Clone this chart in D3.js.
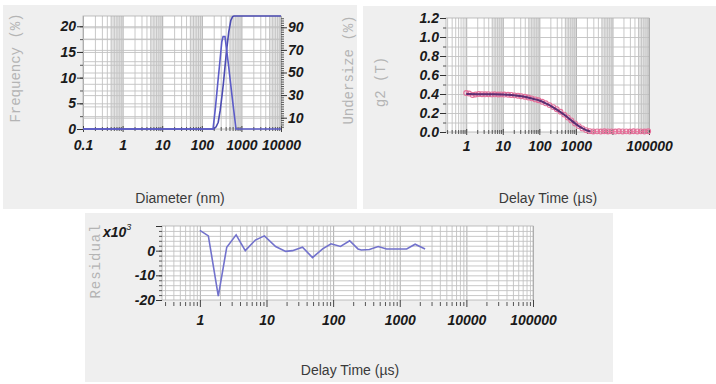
<!DOCTYPE html>
<html>
<head>
<meta charset="utf-8">
<script src="https://cdn.jsdelivr.net/npm/d3@7"></script>
<style>
body { margin: 0; background: #fff; }
.tick text { font-family: "Liberation Sans", Arial, sans-serif; font-weight: bold; font-style: italic; font-size: 14px; fill: #1a1a1a; }
.ytitle { font-family: "Liberation Mono", monospace; font-size: 14px; fill: #b4b4b4; }
.xtitle { font-family: "Liberation Sans", Arial, sans-serif; font-size: 14px; fill: #3a3a3a; }
.domain { display: none; }
</style>
</head>
<body>
<svg id="chart" width="716" height="384"></svg>
<script>
// ---- size distribution (top left)
var freqDiameter = [0.1, 192, 220, 250, 285, 320, 345, 385, 430, 480, 540, 610, 680, 730, 10000];
var freqValue    = [0, 0, 4, 8.5, 13, 17, 18, 18, 15, 12, 8.5, 5, 2, 0, 0];
var underDiameter = [0.1, 200, 230, 260, 290, 320, 350, 385, 430, 480, 540, 600, 650, 10000];
var underValue    = [0, 0, 2, 6, 16, 28, 40, 55, 72, 86, 96, 99.5, 100, 100];
var diamLabels = [0.1, 1, 10, 100, 1000, 10000];
var freqLabels = [0, 5, 10, 15, 20];
var underLabels = [10, 30, 50, 70, 90];

// ---- correlation function (top right)
var g2Time = [1, 1.2, 1.5, 1.8, 2.2, 2.7, 3.3, 4, 5, 6, 7.5, 9, 11, 14, 17, 21, 26, 32, 40, 50, 62, 78, 95,
  120, 150, 190, 240, 300, 380, 480, 600, 750, 950, 1200, 1500, 1900, 2400, 3000, 3800, 4800, 6000, 7500,
  9500, 12000, 15000, 19000, 24000, 30000, 38000, 48000, 60000, 75000, 95000];
var g2Value = [0.41, 0.405, 0.39, 0.395, 0.40, 0.398, 0.397, 0.398, 0.396, 0.397, 0.395, 0.396, 0.394, 0.392,
  0.39, 0.386, 0.382, 0.377, 0.371, 0.363, 0.354, 0.343, 0.334, 0.318, 0.302, 0.283, 0.262, 0.24, 0.213,
  0.183, 0.153, 0.122, 0.09, 0.062, 0.038, 0.02, 0.009, 0.006, 0.007, 0.005, 0.008, 0.006, 0.007, 0.005,
  0.008, 0.006, 0.007, 0.005, 0.008, 0.006, 0.007, 0.005, 0.008];
var fitTime  = [1, 2, 5, 10, 20, 40, 70, 100, 150, 220, 330, 500, 700, 1000, 1400, 1900, 2500];
var fitValue = [0.400, 0.398, 0.397, 0.395, 0.388, 0.371, 0.348, 0.332, 0.302, 0.268, 0.225, 0.176, 0.131, 0.084, 0.045, 0.02, 0.006];
var g2TimeLabels = [1, 10, 100, 1000, 100000];
var g2Labels = [0, 0.2, 0.4, 0.6, 0.8, 1.0, 1.2];

// ---- residual (bottom)
var resTime  = [1, 1.34, 1.89, 2.53, 3.5, 4.8, 6.8, 9.3, 13.7, 19.4, 24.5, 34.7, 49, 69.6, 93, 129, 177,
  236, 265, 350, 475, 633, 850, 1270, 1700, 2400];
var resValue = [8.2, 6, -18.4, 1.4, 6.4, 0, 4.3, 6, 1.7, -0.3, 0, 1.4, -2.8, 0.7, 2.8, 1.7, 4, 0.7, 0.3,
  0.5, 1.7, 0.7, 0.7, 0.7, 2.6, 0.7];
var resTimeLabels = [1, 10, 100, 1000, 10000, 100000];
var resLabels = [-20, -10, 0];

var svg = d3.select('#chart');

// 1..9 x 10^k inside a domain
function logTicks(lo, hi) {
  var out = [];
  for (var k = -2; k <= 6; k++) {
    for (var m = 1; m < 10; m++) {
      var v = +(m * Math.pow(10, k)).toPrecision(3);
      if (v >= lo * 0.999 && v <= hi * 1.001) out.push(v);
    }
  }
  return out;
}
function isDecade(v) {
  var l = Math.log10(v);
  return Math.abs(l - Math.round(l)) < 1e-6;
}

function panel(p) {
  var g = svg.append('g');
  g.append('rect')
    .attr('x', p.bg[0]).attr('y', p.bg[1]).attr('width', p.bg[2]).attr('height', p.bg[3])
    .attr('fill', '#efefef');

  var x = d3.scaleLog().domain(p.xDomain).range([p.left, p.right]);
  var y = d3.scaleLinear().domain(p.yDomain).range([p.bottom, p.top]);
  var h = p.bottom - p.top, w = p.right - p.left;

  g.append('rect')
    .attr('x', p.left).attr('y', p.top).attr('width', w).attr('height', h)
    .attr('fill', '#fff');

  // shaded upper part of each decade
  if (p.bands) {
    var dec = logTicks(p.xDomain[0], p.xDomain[1]).filter(isDecade);
    dec.forEach(function (d) {
      var a = Math.max(d * 5, p.xDomain[0]), b = Math.min(d * 10, p.xDomain[1]);
      if (a < b) {
        g.append('rect')
          .attr('x', x(a)).attr('y', p.top)
          .attr('width', x(b) - x(a)).attr('height', h)
          .attr('fill', '#e3e3e3');
      }
    });
  }

  // vertical grid
  var vg = g.append('g')
    .attr('transform', 'translate(0,' + p.bottom + ')')
    .call(d3.axisBottom(x).tickValues(logTicks(p.xDomain[0], p.xDomain[1])).tickSize(-h).tickFormat(''));
  vg.selectAll('.tick line')
    .attr('stroke', function (d) { return isDecade(d) ? '#a4a4a4' : '#c2c2c2'; })
    .attr('stroke-width', 0.9);

  // horizontal grid
  p.hGrid.forEach(function (hg) {
    var s = d3.scaleLinear().domain(hg.domain).range([p.bottom, p.top]);
    var gg = g.append('g')
      .attr('transform', 'translate(' + p.left + ',0)')
      .call(d3.axisLeft(s).tickValues(hg.values).tickSize(-w).tickFormat(''));
    gg.selectAll('.tick line').attr('stroke', '#c2c2c2').attr('stroke-width', 0.9);
  });

  g.append('rect')
    .attr('x', p.left).attr('y', p.top).attr('width', w).attr('height', h)
    .attr('fill', 'none').attr('stroke', '#b0b0b0').attr('stroke-width', 0.8);

  // x tick marks
  var minor = logTicks(p.xDomain[0], p.xDomain[1]).filter(function (d) { return !isDecade(d); });
  var major = logTicks(p.xDomain[0], p.xDomain[1]).filter(isDecade);
  g.append('g')
    .attr('transform', 'translate(0,' + (p.bottom + p.minorOff) + ')')
    .style('color', '#555')
    .call(d3.axisBottom(x).tickValues(minor).tickSize(p.minorLen).tickFormat(''));
  g.append('g')
    .attr('transform', 'translate(0,' + (p.bottom + p.majorOff) + ')')
    .style('color', '#444')
    .call(d3.axisBottom(x).tickValues(major).tickSize(p.majorLen).tickFormat(''));
  // x tick labels
  g.append('g')
    .attr('transform', 'translate(0,' + p.bottom + ')')
    .call(d3.axisBottom(x).tickValues(p.xLabels).tickSize(0).tickPadding(p.xPad)
      .tickFormat(function (d) { return String(d); }));

  return { g: g, x: x, y: y };
}

function yAxis(g, scale, xpos, side, labels, minor, fmt) {
  var ax = side === 'left' ? d3.axisLeft : d3.axisRight;
  g.append('g')
    .attr('transform', 'translate(' + xpos + ',0)')
    .style('color', '#555')
    .call(ax(scale).tickValues(minor).tickSize(3).tickFormat(''));
  g.append('g')
    .attr('transform', 'translate(' + xpos + ',0)')
    .style('color', '#333')
    .call(ax(scale).tickValues(labels).tickSize(6).tickPadding(1).tickFormat(fmt));
}

function ytitle(text, cx, cy, spacing) {
  svg.append('text')
    .attr('class', 'ytitle')
    .attr('transform', 'translate(' + cx + ',' + cy + ') rotate(-90)')
    .attr('text-anchor', 'middle')
    .attr('dy', '0.35em')
    .style('letter-spacing', spacing || 0)
    .text(text);
}
function xtitle(text, cx, by) {
  svg.append('text')
    .attr('class', 'xtitle')
    .attr('x', cx).attr('y', by)
    .attr('text-anchor', 'middle')
    .text(text);
}

// ============ panel 1: size distribution
var p1 = panel({
  bg: [3, 5, 354, 204],
  left: 83, right: 281, top: 16, bottom: 129,
  xDomain: [0.1, 10000], yDomain: [0, 22],
  bands: true,
  hGrid: [
    { domain: [0, 22], values: d3.range(2.5, 22, 2.5) },
    { domain: [0, 100], values: d3.range(10, 100, 10) }
  ],
  minorOff: 2, minorLen: -4, majorOff: 3, majorLen: -6,
  xLabels: diamLabels, xPad: 11
});
var yUnder = d3.scaleLinear().domain([0, 100]).range([129, 16]);
yAxis(p1.g, p1.y, 83, 'left', freqLabels, d3.range(2.5, 22, 2.5), function (d) { return String(d); });
yAxis(p1.g, yUnder, 281, 'right', underLabels, d3.range(2, 100, 2), function (d) { return String(d); });

p1.g.append('path')
  .datum(d3.zip(underDiameter, underValue))
  .attr('fill', 'none').attr('stroke', '#4c4cb2').attr('stroke-width', 1.6)
  .attr('d', d3.line().x(function (d) { return p1.x(d[0]); }).y(function (d) { return yUnder(d[1]); }));
p1.g.append('path')
  .datum(d3.zip(freqDiameter, freqValue))
  .attr('fill', 'none').attr('stroke', '#5c5cc8').attr('stroke-width', 1.6)
  .attr('d', d3.line().x(function (d) { return p1.x(d[0]); }).y(function (d) { return p1.y(d[1]); }));

ytitle('Frequency (%)', 15, 68);
ytitle('Undersize (%)', 348, 70);
xtitle('Diameter (nm)', 180, 203);

// ============ panel 2: g2
var p2 = panel({
  bg: [363, 6, 353, 203],
  left: 446, right: 649, top: 18, bottom: 132,
  xDomain: [0.28, 100000], yDomain: [0, 1.2],
  bands: true,
  hGrid: [{ domain: [0, 1.2], values: d3.range(0.1, 1.2, 0.1) }],
  minorOff: 2, minorLen: -4, majorOff: 3, majorLen: -6,
  xLabels: g2TimeLabels, xPad: 9
});
yAxis(p2.g, p2.y, 446, 'left', g2Labels, d3.range(0.1, 1.2, 0.1), d3.format('.1f'));

var g2pts = d3.zip(g2Time, g2Value);
p2.g.append('path')
  .datum(g2pts)
  .attr('fill', 'none').attr('stroke', '#ec86a6').attr('stroke-width', 1.4)
  .attr('d', d3.line().x(function (d) { return p2.x(d[0]); }).y(function (d) { return p2.y(d[1]); }));
p2.g.selectAll('.g2pt')
  .data(g2pts)
  .join('circle')
  .attr('class', 'g2pt')
  .attr('cx', function (d) { return p2.x(d[0]); })
  .attr('cy', function (d) { return p2.y(d[1]); })
  .attr('r', 2.4)
  .attr('fill', 'none').attr('stroke', '#e5709a').attr('stroke-width', 1.1);
p2.g.append('path')
  .datum(d3.zip(fitTime, fitValue))
  .attr('fill', 'none').attr('stroke', '#5a2d72').attr('stroke-width', 2)
  .attr('d', d3.line().curve(d3.curveMonotoneX)
    .x(function (d) { return p2.x(d[0]); }).y(function (d) { return p2.y(d[1]); }));

ytitle('g2 (T)', 380, 82);
xtitle('Delay Time (\u00b5s)', 548, 203);

// ============ panel 3: residual
var p3 = panel({
  bg: [85, 213, 528, 169],
  left: 162, right: 533, top: 226, bottom: 300,
  xDomain: [0.27, 100000], yDomain: [-20, 10],
  bands: false,
  hGrid: [{ domain: [-20, 10], values: d3.range(-18, 10, 2) }],
  minorOff: 2, minorLen: 4, majorOff: 0, majorLen: 7,
  xLabels: resTimeLabels, xPad: 15
});
yAxis(p3.g, p3.y, 162, 'left', resLabels, d3.range(-18, 11, 2), function (d) { return String(d); });
p3.g.append('g')
  .attr('transform', 'translate(162,0)')
  .style('color', '#333')
  .call(d3.axisLeft(p3.y).tickValues([10]).tickSize(6).tickFormat(''));

var sci = p3.g.append('text')
  .attr('x', 103).attr('y', 237)
  .style('font-family', '"Liberation Sans", Arial, sans-serif')
  .style('font-weight', 'bold').style('font-style', 'italic')
  .style('font-size', '14px').style('fill', '#1a1a1a');
sci.append('tspan').text('x10');
sci.append('tspan').attr('dy', -7).style('font-size', '9px').style('font-weight', 'normal').text('3');

p3.g.append('path')
  .datum(d3.zip(resTime, resValue))
  .attr('fill', 'none').attr('stroke', '#7272cc').attr('stroke-width', 1.6)
  .attr('d', d3.line().x(function (d) { return p3.x(d[0]); }).y(function (d) { return p3.y(d[1]); }));

ytitle('Residual', 95, 261, '1px');
xtitle('Delay Time (\u00b5s)', 350, 375);
</script>
</body>
</html>
